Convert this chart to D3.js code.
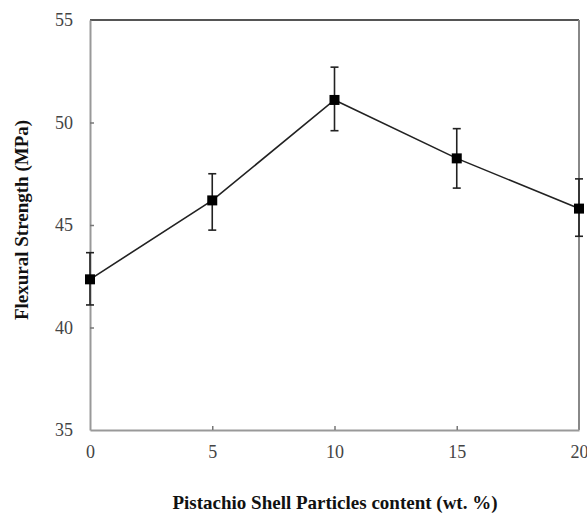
<!DOCTYPE html>
<html>
<head>
<meta charset="utf-8">
<script src="https://cdn.jsdelivr.net/npm/d3@7.9.0/dist/d3.min.js"></script>
<style>
  body { margin: 0; background: #fff; }
</style>
</head>
<body>
<svg width="587" height="514"></svg>
<script>
// data
const content = [0, 5, 10, 15, 20];
const strength = [42.35, 46.2, 51.1, 48.25, 45.8];
const errUp = [43.65, 47.5, 52.7, 49.7, 47.25];
const errLow = [41.1, 44.75, 49.6, 46.8, 44.45];
const xTicks = [0, 5, 10, 15, 20];
const yTicks = [35, 40, 45, 50, 55];

const serif = '"Liberation Serif", "Times New Roman", "DejaVu Serif", serif';
const svg = d3.select('svg').attr('font-family', serif);
const margin = { left: 90, top: 20, right: 8, bottom: 84 };
const W = 587, H = 514;

const x = d3.scaleLinear().domain([0, 20]).range([margin.left, W - margin.right]);
const y = d3.scaleLinear().domain([35, 55]).range([H - margin.bottom, margin.top]);

// frame
svg.append('line')
  .attr('x1', x(0)).attr('x2', x(20)).attr('y1', y(55)).attr('y2', y(55))
  .attr('stroke', '#555').attr('stroke-width', 2);
svg.append('line')
  .attr('x1', x(20)).attr('x2', x(20)).attr('y1', y(55)).attr('y2', y(35))
  .attr('stroke', '#888').attr('stroke-width', 2);

// axes with inward ticks
const yAxis = svg.append('g')
  .attr('transform', `translate(${x(0)},0)`)
  .call(d3.axisLeft(y).tickValues(yTicks).tickSizeInner(-4).tickSizeOuter(0).tickPadding(17));
const xAxis = svg.append('g')
  .attr('transform', `translate(0,${y(35)})`)
  .call(d3.axisBottom(x).tickValues(xTicks).tickSizeInner(-4).tickSizeOuter(0).tickPadding(14));

[yAxis, xAxis].forEach(g => {
  g.attr('font-family', serif).attr('font-size', 18);
  g.select('.domain').attr('stroke', '#999').attr('stroke-width', 2);
  g.selectAll('.tick line').attr('stroke', '#777').attr('stroke-width', 1.5);
  g.selectAll('.tick text').attr('fill', '#444');
});
// hide end ticks sitting on the frame
yAxis.selectAll('.tick').filter(d => d === 35 || d === 55).select('line').remove();
xAxis.selectAll('.tick').filter(d => d === 0 || d === 20).select('line').remove();
xAxis.selectAll('.tick text').attr('dy', '0.75em');

// line
const pts = content.map((c, i) => ({ c, v: strength[i], hi: errUp[i], lo: errLow[i] }));
svg.append('path')
  .datum(pts)
  .attr('fill', 'none')
  .attr('stroke', '#222')
  .attr('stroke-width', 1.6)
  .attr('d', d3.line().x(d => x(d.c)).y(d => y(d.v)));

// error bars
const eb = svg.append('g').attr('stroke', '#222').attr('stroke-width', 1.6);
pts.forEach(d => {
  eb.append('line').attr('x1', x(d.c)).attr('x2', x(d.c)).attr('y1', y(d.hi)).attr('y2', y(d.lo));
  eb.append('line').attr('x1', x(d.c) - 4).attr('x2', x(d.c) + 4).attr('y1', y(d.hi)).attr('y2', y(d.hi));
  eb.append('line').attr('x1', x(d.c) - 4).attr('x2', x(d.c) + 4).attr('y1', y(d.lo)).attr('y2', y(d.lo));
});

// markers
svg.selectAll('rect.mk')
  .data(pts)
  .join('rect')
  .attr('class', 'mk')
  .attr('x', d => x(d.c) - 5)
  .attr('y', d => y(d.v) - 5)
  .attr('width', 10).attr('height', 10)
  .attr('fill', '#000');

// axis titles
svg.append('text')
  .attr('x', 335)
  .attr('y', 509)
  .attr('text-anchor', 'middle')
  .attr('font-weight', 'bold')
  .attr('font-size', 19)
  .attr('fill', '#111')
  .text('Pistachio Shell Particles content (wt. %)');

svg.append('text')
  .attr('transform', 'translate(28,220) rotate(-90)')
  .attr('text-anchor', 'middle')
  .attr('font-weight', 'bold')
  .attr('font-size', 19)
  .attr('fill', '#111')
  .text('Flexural Strength (MPa)');
</script>
</body>
</html>
